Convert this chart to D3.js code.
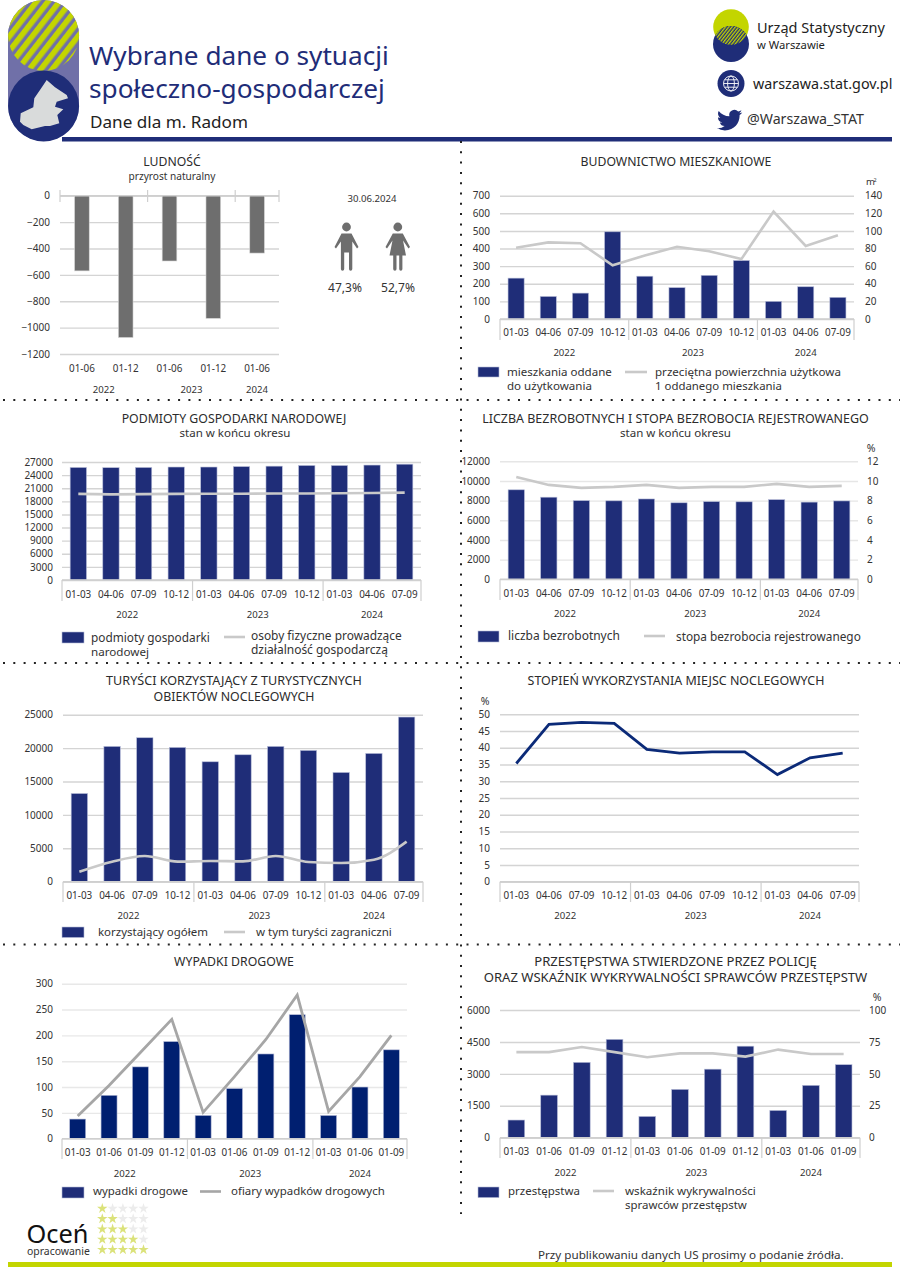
<!DOCTYPE html>
<html lang="pl"><head><meta charset="utf-8">
<script src="https://cdn.jsdelivr.net/npm/d3@7/dist/d3.min.js"></script>
<style>
html,body{margin:0;padding:0;background:#fff}
svg{display:block}
text{font-family:"Noto Sans","Open Sans",sans-serif}
</style></head><body><svg id="c" width="900" height="1273" viewBox="0 0 900 1273"></svg>
<script>
// ---------- data ----------
const quarters = ["01-03","04-06","07-09","10-12","01-03","04-06","07-09","10-12","01-03","04-06","07-09"];
const cumulative = ["01-03","01-06","01-09","01-12","01-03","01-06","01-09","01-12","01-03","01-06","01-09"];
const halves = ["01-06","01-12","01-06","01-12","01-06"];
const years = ["2022","2023","2024"];
const quarterGroups = [4,4,3];
const halfGroups = [2,2,1];

const naturalIncrease = [-570,-1075,-495,-930,-435];
const dwellings = [232,128,147,495,243,178,248,332,100,183,123];
const dwellingArea = [81,87,86,61,72,82,77,68,122,83,95];
const entities = [25750,25700,25750,25850,25850,25950,26050,26200,26200,26300,26500];
const soleTraders = [19700,19600,19650,19700,19750,19750,19800,19800,19850,19900,20000];
const unemployed = [9100,8350,8000,7980,8170,7780,7900,7880,8100,7850,7970];
const unemploymentRate = [10.4,9.6,9.3,9.4,9.6,9.3,9.4,9.4,9.7,9.4,9.5];
const tourists = [13200,20250,21550,20100,17950,19000,20250,19650,16350,19200,24650];
const foreignTourists = [1500,3000,3850,3000,3100,3050,3850,2950,2800,3300,6000];
const occupancy = [35.3,47,47.6,47.3,39.5,38.4,38.8,38.8,32,37,38.4];
const accidents = [38,84,139,188,45,97,164,240,45,100,172];
const victims = [44,103,167,231,51,120,192,278,53,120,200];
const crimes = [830,2000,3540,4620,1000,2270,3220,4300,1280,2460,3430];
const detection = [67,67,71,67,63,66,66,63.5,69,65.5,65.5];

const ticksPop = [0,-200,-400,-600,-800,-1000,-1200];
const ticksDwell = [0,100,200,300,400,500,600,700];
const ticksArea = [0,20,40,60,80,100,120,140];
const ticksEnt = [0,3000,6000,9000,12000,15000,18000,21000,24000,27000];
const ticksUnemp = [0,2000,4000,6000,8000,10000,12000];
const ticksRate = [0,2,4,6,8,10,12];
const ticksTour = [0,5000,10000,15000,20000,25000];
const ticksOcc = [0,5,10,15,20,25,30,35,40,45,50];
const ticksAcc = [0,50,100,150,200,250,300];
const ticksCrime = [0,1500,3000,4500,6000];
const ticksDet = [0,25,50,75,100];

// ---------- helpers ----------
const NAVY="#1f2d78", GRID="#d4d4d4", TXT="#333";
const svg=d3.select("#c");
const defs=svg.append("defs");
function hatch(id,a,b,w,lw,rot){
  const p=defs.append("pattern").attr("id",id).attr("patternUnits","userSpaceOnUse")
    .attr("width",w).attr("height",w).attr("patternTransform",`rotate(${rot})`);
  p.append("rect").attr("width",w).attr("height",w).attr("fill",b);
  p.append("rect").attr("width",lw).attr("height",w).attr("fill",a);
}
hatch("h1","#c3d500","#7070a8",9,5.6,38);
hatch("h2","#c3d500","#1f2d78",2.6,1.3,38);

// a text whose font size is tuned so that it spans the width measured in the reference
function label(x,y,s,width,anchor,fill){
  const t=svg.append("text").attr("x",x).attr("y",y).attr("font-size",12)
    .attr("text-anchor",anchor||"start").attr("fill",fill||TXT).text(s);
  const w=t.node().getComputedTextLength();
  t.attr("font-size",12*width/w);
  return t;
}
function sized(x,y,s,size,anchor,fill){
  return svg.append("text").attr("x",x).attr("y",y).attr("font-size",size)
    .attr("text-anchor",anchor||"start").attr("fill",fill||TXT).text(s);
}
function chart(o){
  const g=svg.append("g");
  const y=d3.scaleLinear().domain(o.domain).range([o.yB,o.yT]);
  const x=d3.scaleBand().domain(d3.range(o.cats.length)).range([o.x0,o.x1]).paddingInner(o.pad).paddingOuter(o.pad/2);
  g.append("g").attr("transform",`translate(${o.x0},0)`)
    .call(d3.axisLeft(y).tickValues(o.ticks).tickSize(-(o.x1-o.x0)).tickFormat(""))
    .call(a=>a.select(".domain").remove())
    .call(a=>a.selectAll("line").attr("stroke",o.gridC||GRID).attr("stroke-width",1.4));
  g.append("g").attr("transform",`translate(${o.x0-o.lblGap},0)`)
    .call(d3.axisLeft(y).tickValues(o.ticks).tickSize(0).tickPadding(0).tickFormat(d3.format("d")))
    .call(a=>a.select(".domain").remove())
    .call(a=>a.selectAll("text").attr("font-size",10).attr("fill",TXT).attr("font-family",'"Noto Sans"'));
  if(o.bars) g.append("g").selectAll("rect").data(o.bars).join("rect")
    .attr("x",(d,i)=>x(i)).attr("width",x.bandwidth())
    .attr("y",d=>Math.min(y(0),y(d))).attr("height",d=>Math.abs(y(d)-y(0)))
    .attr("fill",o.barC||NAVY).attr("stroke",o.barS||"#b6bcd8").attr("stroke-width",.6);
  const sepTop=o.sepTop===undefined?y(0):o.sepTop, sepBot=o.sepBot;
  let acc=0; const seps=[0];
  o.groups.forEach(n=>{acc+=n;seps.push(acc)});
  const pos=i=>o.x0+(o.x1-o.x0)*i/o.cats.length;
  g.append("line").attr("x1",o.x0).attr("x2",o.x1).attr("y1",y(0)).attr("y2",y(0)).attr("stroke","#cfcfcf").attr("stroke-width",1.4);
  g.append("g").selectAll("line").data(seps).join("line")
    .attr("x1",pos).attr("x2",pos).attr("y1",sepTop).attr("y2",sepBot).attr("stroke","#cfcfcf").attr("stroke-width",1.2);
  const cx=i=>x(i)+x.bandwidth()/2;
  g.append("g").selectAll("text").data(o.cats).join("text")
    .attr("x",(d,i)=>cx(i)).attr("y",o.catY).attr("text-anchor","middle").attr("font-size",9.9).attr("fill",TXT).text(d=>d);
  g.append("g").selectAll("text").data(years).join("text")
    .attr("x",(d,i)=>(pos(seps[i])+pos(seps[i+1]))/2).attr("y",o.yearY).attr("text-anchor","middle").attr("font-size",9.6).attr("fill",TXT).text(d=>d);
  let y2=y;
  if(o.domain2){
    y2=d3.scaleLinear().domain(o.domain2).range([o.yB,o.yT]);
    g.append("g").attr("transform",`translate(${o.rx},0)`)
      .call(d3.axisRight(y2).tickValues(o.ticks2).tickSize(0).tickPadding(0).tickFormat(d3.format("d")))
      .call(a=>a.select(".domain").remove())
      .call(a=>a.selectAll("text").attr("font-size",10).attr("fill",TXT).attr("font-family",'"Noto Sans"'));
  }
  if(o.line){
    const gen=d3.line().x((d,i)=>cx(i)).y(d=>y2(d));
    if(o.smooth) gen.curve(d3.curveMonotoneX);
    g.append("path").attr("d",gen(o.line)).attr("fill","none")
      .attr("stroke",o.lineC||"#c9c9c9").attr("stroke-width",o.lineW||2.6).attr("stroke-linejoin","miter");
  }
}
function legendBox(x,y,w,h,c){svg.append("rect").attr("x",x).attr("y",y).attr("width",w).attr("height",h).attr("fill",c||NAVY).attr("stroke","#b6bcd8").attr("stroke-width",.6)}
function legendLine(x1,x2,y,c){svg.append("line").attr("x1",x1).attr("x2",x2).attr("y1",y).attr("y2",y).attr("stroke",c||"#c9c9c9").attr("stroke-width",2.6)}
const TITLE="#2b2b2b";

// ---------- header ----------
svg.append("rect").attr("x",8).attr("y",0).attr("width",71).attr("height",141).attr("rx",35.5).attr("fill","#7070a8");
svg.append("circle").attr("cx",43.6).attr("cy",35.5).attr("r",35.5).attr("fill","url(#h1)");
svg.append("circle").attr("cx",43.6).attr("cy",106).attr("r",35.5).attr("fill",NAVY);
svg.append("path").attr("fill","#d9dbdb").attr("d","M46.7 80L55 87.3L66.7 95L68 98.3L56.7 101.7L55 106.7L63.3 109.3L57.3 115L59.3 123.3L50 126L45 126L31.7 129.3L23.3 125L20 121.7L20.7 113.3L33.3 107.3L34.3 98.3L40 90Z");
svg.append("rect").attr("x",62).attr("y",137).attr("width",830).attr("height",4.5).attr("fill",NAVY);
label(89,65,"Wybrane dane o sytuacji",300,"start",NAVY);
label(89,98,"społeczno-gospodarczej",296,"start",NAVY);
label(90,127.5,"Dane dla m. Radom",158,"start","#222");

svg.append("circle").attr("cx",731).attr("cy",27).attr("r",17.8).attr("fill","#c3d500");
svg.append("circle").attr("cx",731).attr("cy",44).attr("r",18).attr("fill",NAVY);
defs.append("clipPath").attr("id","lens").append("circle").attr("cx",731).attr("cy",27).attr("r",17.8);
svg.append("circle").attr("cx",731).attr("cy",44).attr("r",18).attr("fill","url(#h2)").attr("clip-path","url(#lens)");
label(757,33,"Urząd Statystyczny",128,"start","#222");
label(757,49,"w Warszawie",68,"start","#222");
svg.append("circle").attr("cx",731).attr("cy",83.5).attr("r",13.5).attr("fill",NAVY);
const globe=svg.append("g").attr("fill","none").attr("stroke","#fff").attr("stroke-width",.9);
globe.append("circle").attr("cx",731).attr("cy",83.5).attr("r",7.5);
globe.append("ellipse").attr("cx",731).attr("cy",83.5).attr("rx",3.4).attr("ry",7.5);
globe.append("path").attr("d","M723.5 83.5H738.5M724.6 79.8H737.4M724.6 87.2H737.4");
label(753,89,"warszawa.stat.gov.pl",139.5,"start","#222");
svg.append("path").attr("transform","translate(717,107.6) scale(1.05)").attr("fill",NAVY).attr("d","M23.953 4.57a10 10 0 01-2.825.775 4.958 4.958 0 002.163-2.723c-.951.555-2.005.959-3.127 1.184a4.92 4.92 0 00-8.384 4.482C7.69 8.095 4.067 6.13 1.64 3.162a4.822 4.822 0 00-.666 2.475c0 1.71.87 3.213 2.188 4.096a4.904 4.904 0 01-2.228-.616v.06a4.923 4.923 0 003.946 4.827 4.996 4.996 0 01-2.212.085 4.936 4.936 0 004.604 3.417 9.867 9.867 0 01-6.102 2.105c-.39 0-.779-.023-1.17-.067a13.995 13.995 0 007.557 2.209c9.053 0 13.998-7.496 13.998-13.985 0-.21 0-.42-.015-.63A9.935 9.935 0 0024 4.59z");
label(747,124,"@Warszawa_STAT",117,"start","#333");

// ---------- separators ----------
const dots=svg.append("g").attr("stroke","#222").attr("stroke-width",2).attr("stroke-dasharray","2 8.3");
[400,663,944.5].forEach(y=>dots.append("line").attr("x1",3).attr("x2",900).attr("y1",y).attr("y2",y));
dots.append("line").attr("x1",461).attr("x2",461).attr("y1",141).attr("y2",1214);

// ---------- 1 population ----------
label(172,166,"LUDNOŚĆ",57.5,"middle",TITLE);
label(172,180,"przyrost naturalny",87,"middle");
chart({cats:halves,groups:halfGroups,bars:naturalIncrease,barC:"#6e6e6e",barS:"#d8d8d8",domain:[-1200,0],ticks:ticksPop,
  x0:60,x1:279,yT:195.7,yB:354,pad:.665,lblGap:10,sepTop:190,sepBot:202,catY:372,yearY:393});
label(372,201.5,"30.06.2024",49,"middle");
const man=svg.append("g").attr("fill","#6e6e6e");
man.append("circle").attr("cx",346.5).attr("cy",227).attr("r",4.4);
man.append("path").attr("d","M341.5 233.5H351.5L358.5 247L357 248.5L352.3 241.5V269Q352.3 270.8 350.6 270.8 349 270.8 349 269V252.5H344.2V269Q344.2 270.8 342.5 270.8 340.9 270.8 340.9 269V241.5L336 248.5L334.5 247Z");
const wom=svg.append("g").attr("fill","#6e6e6e");
wom.append("circle").attr("cx",397.8).attr("cy",227).attr("r",4.4);
wom.append("path").attr("d","M392.8 233.5H402.8L410 247L408.5 248.5L403 240.5L406 255.5H402.4V269Q402.4 270.8 400.8 270.8 399.2 270.8 399.2 269V255.5H396.5V269Q396.5 270.8 394.9 270.8 393.2 270.8 393.2 269V255.5H389.5L392.5 240.5L387 248.5L385.5 247Z");
label(345,292,"47,3%",34,"middle");
label(398,292,"52,7%",34,"middle");

// ---------- 2 dwellings ----------
label(676,166,"BUDOWNICTWO MIESZKANIOWE",191,"middle",TITLE);
sized(866,185,"m",9.5);sized(873.5,181.5,"2",5.5);
chart({cats:quarters,groups:quarterGroups,bars:dwellings,line:dwellingArea,domain:[0,700],ticks:ticksDwell,domain2:[0,140],ticks2:ticksArea,rx:865,
  x0:500,x1:854,yT:195.7,yB:319,pad:.5,lblGap:10,sepBot:340,catY:336,yearY:356});
legendBox(478,367,21,10);legendLine(625,647,372);
label(507,376,"mieszkania oddane",105);label(507,390,"do użytkowania",85);
label(655,376,"przeciętna powierzchnia użytkowa",186);label(655,390,"1 oddanego mieszkania",127);

// ---------- 3 entities ----------
label(234,422.5,"PODMIOTY GOSPODARKI NARODOWEJ",225,"middle",TITLE);
label(235,437,"stan w końcu okresu",111,"middle");
chart({cats:quarters,groups:quarterGroups,bars:entities,line:soleTraders,domain:[0,27000],ticks:ticksEnt,
  x0:62,x1:421,yT:462,yB:580,pad:.5,lblGap:9,sepBot:601,catY:597.5,yearY:618});
legendBox(62,632,22,11);legendLine(224,245,637);
label(91,642,"podmioty gospodarki",119);label(91,656,"narodowej",58);
label(251,640,"osoby fizyczne prowadzące",151);label(251,654,"działalność gospodarczą",137);

// ---------- 4 unemployment ----------
label(675.5,422.5,"LICZBA BEZROBOTNYCH I STOPA BEZROBOCIA REJESTROWANEGO",387,"middle",TITLE);
label(675.5,437,"stan w końcu okresu",111,"middle");
sized(871,452,"%",10.5,"middle");
chart({cats:quarters,groups:quarterGroups,bars:unemployed,line:unemploymentRate,domain:[0,12000],ticks:ticksUnemp,domain2:[0,12],ticks2:ticksRate,rx:867,gridC:"#e6e6e6",
  x0:500,x1:858,yT:461.3,yB:579.3,pad:.5,lblGap:10,sepBot:600,catY:596.5,yearY:617});
legendBox(478,631,21,11);legendLine(644,665,636);
label(508,640,"liczba bezrobotnych",112);
label(676,641,"stopa bezrobocia rejestrowanego",185);

// ---------- 5 tourists ----------
label(234,685,"TURYŚCI KORZYSTAJĄCY Z TURYSTYCZNYCH",256,"middle",TITLE);
label(234,700.5,"OBIEKTÓW NOCLEGOWYCH",161,"middle",TITLE);
chart({cats:quarters,groups:quarterGroups,bars:tourists,line:foreignTourists,smooth:true,domain:[0,25000],ticks:ticksTour,
  x0:63,x1:423,yT:714.7,yB:881.7,pad:.5,lblGap:10,sepBot:902,catY:899,yearY:919});
legendBox(62,927,22,10.5);legendLine(224,245,932);
label(98,936,"korzystający ogółem",110);
label(256,936,"w tym turyści zagraniczni",136);

// ---------- 6 occupancy ----------
label(676,685,"STOPIEŃ WYKORZYSTANIA MIEJSC NOCLEGOWYCH",297,"middle",TITLE);
sized(485,705,"%",10.5,"middle");
chart({cats:quarters,groups:quarterGroups,line:occupancy,lineC:"#0b2a78",lineW:2.8,domain:[0,50],ticks:ticksOcc,
  x0:500,x1:859,yT:714.3,yB:881.7,pad:.5,lblGap:10,sepBot:902,catY:899,yearY:919});

// ---------- 7 accidents ----------
label(234,966,"WYPADKI DROGOWE",120,"middle",TITLE);
chart({cats:cumulative,groups:quarterGroups,bars:accidents,barC:"#001f70",line:victims,lineC:"#a6a6a6",lineW:2.8,gridC:"#e8e8e8",domain:[0,300],ticks:ticksAcc,
  x0:62,x1:407,yT:983.7,yB:1138.7,pad:.49,lblGap:9,sepBot:1159,catY:1156,yearY:1176.5});
legendBox(62,1187,22,11);legendLine(200,221,1191.5,"#a6a6a6");
label(93,1195,"wypadki drogowe",95);
label(231,1195,"ofiary wypadków drogowych",154);

// ---------- 8 crime ----------
label(675.5,966,"PRZESTĘPSTWA STWIERDZONE PRZEZ POLICJĘ",283,"middle",TITLE);
label(675.5,982,"ORAZ WSKAŹNIK WYKRYWALNOŚCI SPRAWCÓW PRZESTĘPSTW",384,"middle",TITLE);
sized(877,1001,"%",10.5,"middle");
chart({cats:cumulative,groups:quarterGroups,bars:crimes,line:detection,domain:[0,6000],ticks:ticksCrime,domain2:[0,100],ticks2:ticksDet,rx:869,
  x0:500,x1:860,yT:1010,yB:1137.7,pad:.49,lblGap:10,sepBot:1158,catY:1155,yearY:1175.5});
legendBox(478,1187,21,10.6);legendLine(593,614,1191);
label(508,1195,"przestępstwa",72);
label(625,1195,"wskaźnik wykrywalności",131);label(625,1209,"sprawców przestępstw",122);

// ---------- footer ----------
svg.append("rect").attr("x",8).attr("y",1262).attr("width",884).attr("height",5).attr("fill","#c3d500");
label(538,1259,"Przy publikowaniu danych US prosimy o podanie źródła.",306);
label(26.5,1243,"Oceń",62,"start","#111");
label(27,1254.5,"opracowanie",63);
const starPath=d3.symbol().type(d3.symbolStar).size(34)();
const starRows=[1,2,3,4,5], starCols=[0,1,2,3,4];
starRows.forEach((n,r)=>starCols.forEach(c=>{
  svg.append("path").attr("d",starPath).attr("transform",`translate(${102.3+c*10.3},${1208.5+r*10.3})`)
    .attr("fill",c<n?"#dbe27a":"#ececec");
}));
</script></body></html>
